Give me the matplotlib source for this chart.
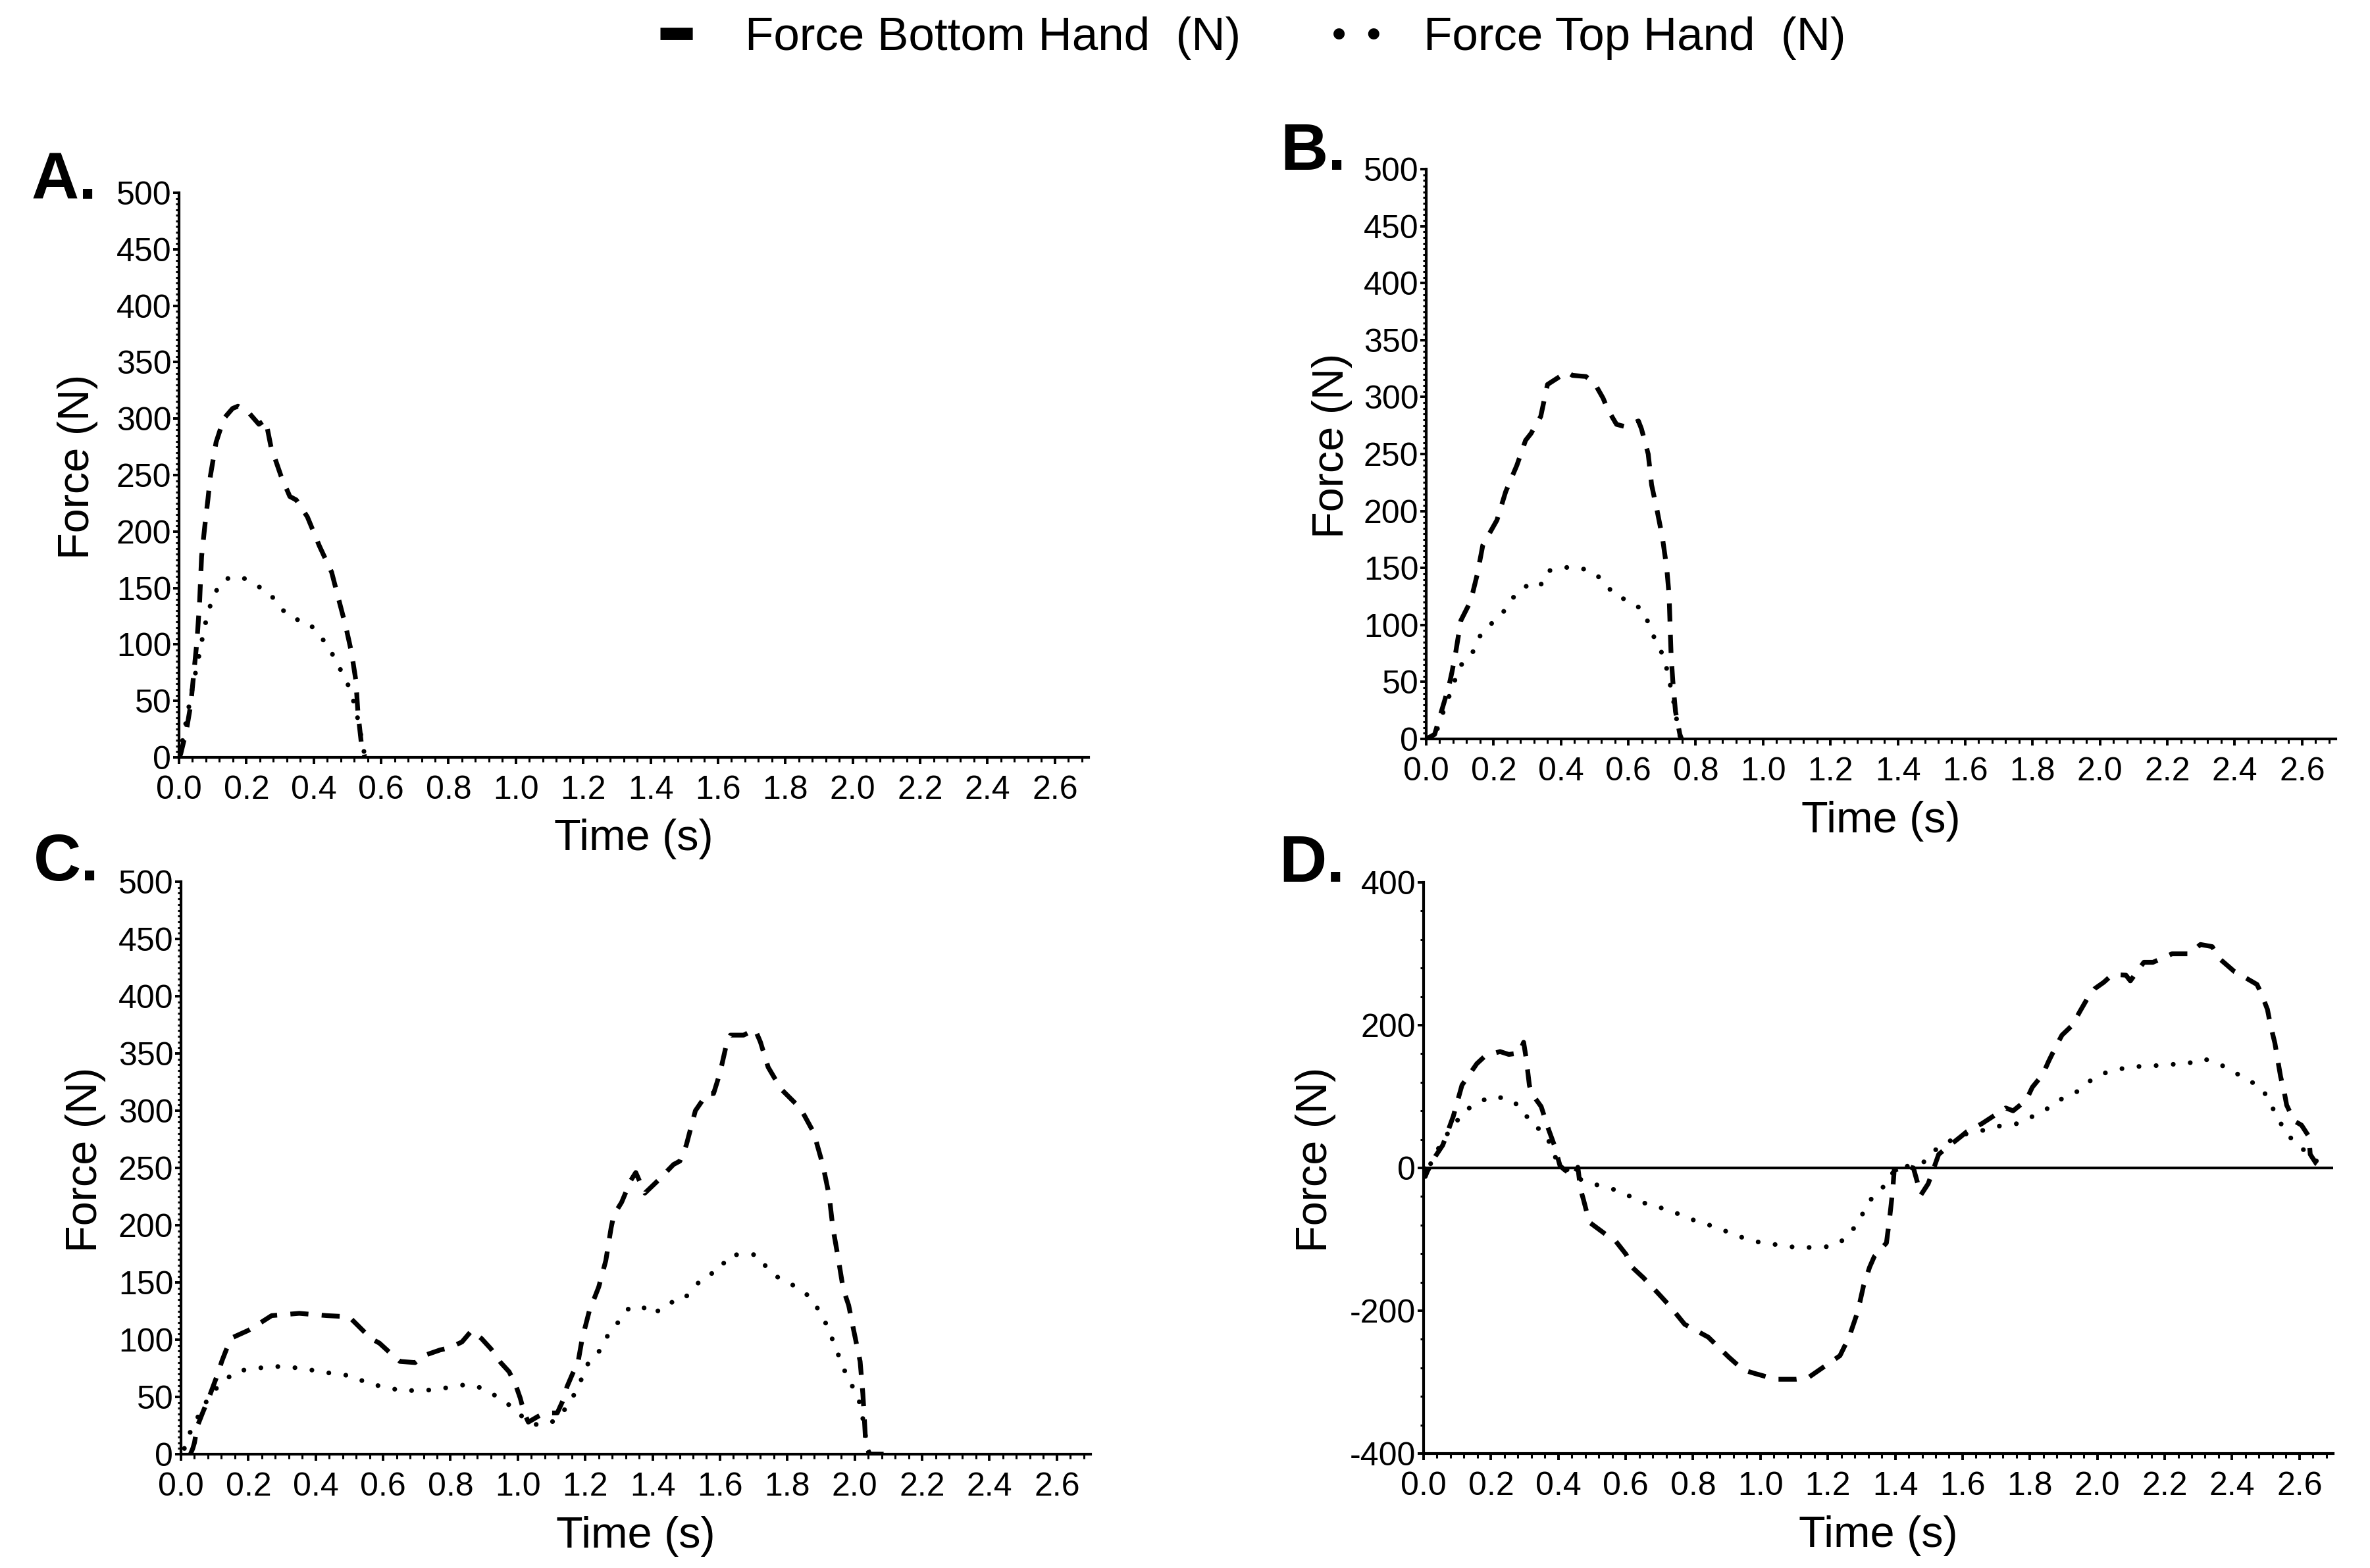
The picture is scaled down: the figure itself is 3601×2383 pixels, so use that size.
import matplotlib
matplotlib.use("Agg")
import matplotlib.pyplot as plt
from matplotlib.ticker import MultipleLocator, FormatStrFormatter
from matplotlib.lines import Line2D

plt.rcParams['font.family'] = ['Liberation Sans', 'DejaVu Sans']
plt.rcParams['axes.unicode_minus'] = False

# ---------------- data ----------------
# Panel A
a_bottom_t = [0.000, 0.005, 0.022, 0.035, 0.044, 0.053, 0.061, 0.067, 0.077, 0.086, 0.093, 0.110,
              0.133, 0.159, 0.175, 0.205, 0.237, 0.257, 0.273, 0.303, 0.329, 0.348, 0.381, 0.417,
              0.453, 0.473, 0.495, 0.512, 0.525, 0.531, 0.541, 0.551]
a_bottom_f = [0, 3, 24, 47, 75, 102, 137, 178, 206, 229, 249, 279,
              300, 309, 311, 306, 295, 299, 275, 249, 231, 228, 213, 187,
              164, 141, 116, 93, 68, 40, 13, 1]
a_top_t = [0.000, 0.005, 0.020, 0.040, 0.058, 0.067, 0.077, 0.090, 0.107, 0.136, 0.184, 0.227,
           0.270, 0.299, 0.335, 0.382, 0.415, 0.446, 0.469, 0.492, 0.512, 0.530, 0.545, 0.552]
a_top_f = [0, 6, 30, 62, 88, 102, 117, 132, 146, 158, 160, 153,
           145, 133, 123, 120, 109, 97, 83, 71, 57, 35, 12, 0]

# Panel B
b_bottom_t = [0.000, 0.025, 0.035, 0.047, 0.067, 0.076, 0.087, 0.103, 0.132, 0.152, 0.168, 0.210,
              0.236, 0.269, 0.295, 0.311, 0.340, 0.360, 0.402, 0.418, 0.434, 0.474, 0.500, 0.525,
              0.539, 0.565, 0.591, 0.630, 0.639, 0.659, 0.669, 0.685, 0.701, 0.714, 0.721, 0.724,
              0.727, 0.732, 0.740, 0.753, 0.758]
b_bottom_f = [0, 4, 14, 26, 46, 58, 75, 104, 121, 145, 170, 192,
              217, 240, 262, 268, 283, 311, 319, 322, 319, 318, 312, 299,
              289, 276, 274, 279, 272, 250, 223, 201, 177, 150, 126, 99,
              73, 51, 24, 4, 0]
b_top_t = [0.000, 0.025, 0.051, 0.070, 0.087, 0.106, 0.140, 0.161, 0.193, 0.228, 0.258, 0.293,
           0.337, 0.358, 0.395, 0.443, 0.492, 0.529, 0.558, 0.604, 0.643, 0.662, 0.682, 0.704,
           0.717, 0.737, 0.745, 0.755]
b_top_f = [0, 2, 24, 39, 53, 66, 77, 91, 101, 111, 124, 134,
           133, 147, 150, 151, 147, 138, 126, 121, 113, 100, 85, 73,
           58, 29, 14, 0]

# Panel C
c_bottom_t = [0.028, 0.035, 0.040, 0.048, 0.064, 0.085, 0.109, 0.121, 0.142, 0.154, 0.199, 0.216,
              0.269, 0.351, 0.433, 0.499, 0.523, 0.564, 0.589, 0.630, 0.650, 0.695, 0.720, 0.769,
              0.798, 0.834, 0.863, 0.892, 0.920, 0.949, 0.974, 0.994, 1.007, 1.019, 1.031, 1.060,
              1.080, 1.117, 1.134, 1.146, 1.162, 1.179, 1.191, 1.212, 1.240, 1.261, 1.277, 1.285,
              1.308, 1.335, 1.350, 1.377, 1.416, 1.462, 1.481, 1.500, 1.527, 1.562, 1.581, 1.600,
              1.620, 1.631, 1.670, 1.704, 1.720, 1.743, 1.781, 1.839, 1.878, 1.905, 1.924, 1.935,
              1.951, 1.966, 1.982, 1.997, 2.016, 2.024, 2.028, 2.033, 2.045, 2.120]
c_bottom_f = [0, 5, 10, 24, 36, 51, 70, 81, 97, 102, 108, 111,
              121, 123, 121, 120, 113, 101, 97, 86, 81, 80, 86, 91,
              93, 98, 108, 101, 92, 80, 72, 60, 49, 36, 28, 33,
              36, 36, 47, 59, 70, 81, 101, 125, 146, 169, 198, 209,
              220, 239, 246, 228, 239, 253, 256, 270, 300, 315, 315, 333,
              359, 366, 366, 371, 360, 338, 319, 302, 281, 253, 226, 198,
              171, 144, 130, 108, 81, 53, 34, 7, 0, 0]
c_top_t = [0.010, 0.019, 0.040, 0.064, 0.089, 0.125, 0.165, 0.214, 0.263, 0.314, 0.363, 0.412,
           0.464, 0.513, 0.558, 0.607, 0.656, 0.705, 0.755, 0.804, 0.853, 0.902, 0.944, 0.984,
           1.023, 1.062, 1.109, 1.142, 1.169, 1.191, 1.211, 1.245, 1.269, 1.300, 1.331, 1.368,
           1.404, 1.441, 1.489, 1.521, 1.556, 1.599, 1.622, 1.668, 1.712, 1.743, 1.783, 1.829,
           1.868, 1.897, 1.918, 1.938, 1.955, 1.974, 1.997, 2.016, 2.024, 2.035, 2.042]
c_top_f = [5, 14, 27, 40, 53, 63, 73, 74, 77, 76, 75, 72,
           70, 68, 61, 59, 55, 56, 56, 59, 61, 57, 49, 41,
           30, 25, 29, 40, 53, 67, 81, 91, 105, 116, 128, 129,
           122, 132, 134, 145, 156, 160, 173, 175, 174, 161, 152, 146,
           137, 124, 112, 97, 84, 70, 57, 44, 31, 10, 0]

# Panel D
d_bottom_t = [0.000, 0.005, 0.011, 0.036, 0.057, 0.088, 0.114, 0.158, 0.183, 0.227, 0.253, 0.284,
              0.297, 0.305, 0.314, 0.320, 0.349, 0.371, 0.388, 0.405, 0.417, 0.445, 0.458, 0.466,
              0.475, 0.492, 0.549, 0.571, 0.601, 0.619, 0.653, 0.697, 0.732, 0.775, 0.845, 0.906,
              0.949, 0.984, 1.045, 1.106, 1.141, 1.193, 1.236, 1.263, 1.289, 1.306, 1.324, 1.338,
              1.374, 1.383, 1.388, 1.393, 1.397, 1.436, 1.454, 1.467, 1.476, 1.498, 1.511, 1.529,
              1.547, 1.595, 1.613, 1.657, 1.683, 1.728, 1.750, 1.789, 1.807, 1.838, 1.856, 1.878,
              1.895, 1.926, 1.948, 1.970, 1.992, 2.019, 2.045, 2.085, 2.098, 2.138, 2.165, 2.222,
              2.275, 2.306, 2.341, 2.363, 2.407, 2.434, 2.474, 2.487, 2.505, 2.514, 2.527, 2.536,
              2.544, 2.555, 2.562, 2.584, 2.606, 2.628, 2.632, 2.650, 2.668, 2.676]
d_bottom_f = [0, -12, -5, 17, 32, 72, 116, 146, 157, 163, 159, 161,
              176, 152, 116, 105, 86, 54, 32, 3, -2, -12, 1, -30,
              -45, -76, -96, -103, -121, -139, -154, -176, -194, -219, -237, -265,
              -283, -288, -296, -296, -294, -277, -263, -237, -201, -165, -139, -124,
              -105, -72, -51, -29, -3, 2, 0, -22, -38, -22, -5, 19,
              26, 44, 51, 62, 70, 84, 80, 95, 113, 131, 150, 171,
              186, 200, 219, 237, 251, 260, 271, 270, 262, 288, 288, 300,
              300, 313, 310, 293, 275, 268, 257, 244, 222, 200, 175, 150,
              128, 106, 88, 66, 60, 44, 19, 6, 0, -7]
d_top_t = [0.000, 0.007, 0.029, 0.062, 0.088, 0.114, 0.158, 0.203, 0.253, 0.294, 0.318, 0.358,
           0.382, 0.392, 0.410, 0.440, 0.488, 0.536, 0.584, 0.630, 0.675, 0.725, 0.773, 0.819,
           0.869, 0.914, 0.962, 1.013, 1.062, 1.112, 1.163, 1.213, 1.256, 1.284, 1.311, 1.337,
           1.374, 1.397, 1.440, 1.489, 1.525, 1.567, 1.613, 1.664, 1.712, 1.761, 1.807, 1.851,
           1.895, 1.940, 1.979, 2.023, 2.072, 2.116, 2.166, 2.216, 2.266, 2.315, 2.361, 2.406,
           2.450, 2.491, 2.516, 2.538, 2.563, 2.599, 2.632, 2.660, 2.676]
d_top_f = [0, -8, 14, 43, 57, 77, 91, 100, 97, 83, 62, 50,
           28, 14, 6, -10, -21, -26, -33, -44, -53, -58, -68, -76,
           -83, -92, -100, -106, -108, -112, -111, -110, -98, -80, -58, -37,
           -23, -3, 3, 9, 28, 39, 48, 53, 59, 62, 72, 83,
           97, 107, 122, 133, 139, 142, 143, 145, 146, 153, 146, 134,
           123, 110, 88, 68, 47, 31, 17, 6, -4]

panel_letters = ['A.', 'B.', 'C.', 'D.']
legend_labels = ['Force Bottom Hand  (N)', 'Force Top Hand  (N)']
x_label = 'Time (s)'
y_label = 'Force (N)'

# ---------------- figure ----------------
W, H = 3601, 2383
DPI = 200
fig = plt.figure(figsize=(W / DPI, H / DPI), dpi=DPI)

AW = 1382 / W
# left_px, bottom_px, height_px
boxes = [(272, 1151, 858), (2167, 1123, 866), (275, 2210, 870), (2163, 2209, 868)]
ylab_x = [-0.089, -0.081, -0.0825, -0.096]
letter_pos = [(48, 302), (1945, 258), (51, 1338), (1943, 1340)]

dash_style = (0, (3.8, 2.8))
dot_style = (0, (0.01, 3.6))
LW = 2.6

data = [
    (a_bottom_t, a_bottom_f, a_top_t, a_top_f),
    (b_bottom_t, b_bottom_f, b_top_t, b_top_f),
    (c_bottom_t, c_bottom_f, c_top_t, c_top_f),
    (d_bottom_t, d_bottom_f, d_top_t, d_top_f),
]

for i, (lp, bp, hp) in enumerate(boxes):
    ax = fig.add_axes([lp / W, 1 - bp / H, AW, hp / H])
    bt, bf, tt, tf = data[i]
    ax.plot(bt, bf, color='black', lw=LW, linestyle=dash_style, dash_capstyle='butt')
    ax.plot(tt, tf, color='black', lw=LW, linestyle=dot_style, dash_capstyle='round')
    ax.set_xlim(0, 2.70)
    if i == 3:
        ax.set_ylim(-400, 400)
        ax.yaxis.set_major_locator(MultipleLocator(200))
        ax.yaxis.set_minor_locator(MultipleLocator(40))
        ax.axhline(0, color='black', lw=1.5, zorder=1.5)
    else:
        ax.set_ylim(0, 500)
        ax.yaxis.set_major_locator(MultipleLocator(50))
        ax.yaxis.set_minor_locator(MultipleLocator(5))
    ax.xaxis.set_major_locator(MultipleLocator(0.2))
    ax.xaxis.set_minor_locator(MultipleLocator(0.04))
    ax.xaxis.set_major_formatter(FormatStrFormatter('%.1f'))
    for s in ['top', 'right']:
        ax.spines[s].set_visible(False)
    for s in ['left', 'bottom']:
        ax.spines[s].set_linewidth(1.5)
    ax.tick_params(axis='y', which='major', direction='out', length=3.2, width=1.4,
                   pad=1.0, labelsize=18)
    ax.tick_params(axis='y', which='minor', direction='out', length=1.9, width=1.1)
    ax.tick_params(axis='x', which='major', direction='out', length=3.6, width=1.4,
                   pad=6.0, labelsize=18)
    ax.tick_params(axis='x', which='minor', direction='out', length=2.5, width=1.1)
    ax.set_xlabel(x_label, fontsize=24)
    ax.set_ylabel(y_label, fontsize=24)
    ax.xaxis.set_label_coords(0.5, -0.108)
    ax.yaxis.set_label_coords(ylab_x[i], 0.515)

    lx, ly = letter_pos[i]
    fig.text(lx / W, 1 - ly / H, panel_letters[i], fontsize=36, fontweight='bold',
             ha='left', va='baseline')

# legend
h_bottom = Line2D([0], [0], color='black', lw=6.8, linestyle=(0, (2.6, 20)),
                  dash_capstyle='butt')
h_top = Line2D([0], [0], color='black', lw=6.1, linestyle=(0, (0.01, 3.1)),
               dash_capstyle='round')
fig.legend([h_bottom, h_top], legend_labels, loc='center',
           bbox_to_anchor=(1904 / W, 1 - 58 / H), ncol=2, frameon=False,
           fontsize=25.5, handlelength=0.92, handletextpad=0.9, columnspacing=2.1,
           borderpad=0, borderaxespad=0)

fig.savefig('out.png', dpi=DPI)
